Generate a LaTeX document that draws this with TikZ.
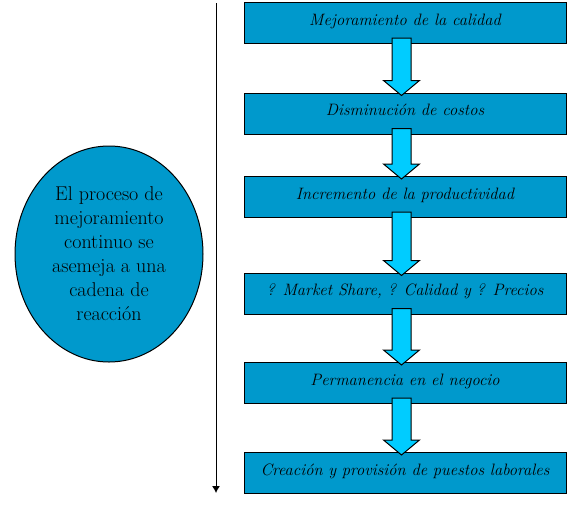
\documentclass[tikz,border=0pt]{standalone}
\usetikzlibrary{arrows.meta,calc,shapes.geometric}

\definecolor{boxblue}{RGB}{0,153,204}
\definecolor{arrowcyan}{RGB}{0,204,255}

\tikzset{
  stepbox/.style={draw=black, line width=1pt, fill=boxblue, minimum width=322, minimum height=41,
    inner sep=0pt, text height=12, text depth=8, font=\fontsize{16.5}{19}\selectfont\itshape},
  blockarrow/.style={draw=black, line width=1pt, fill=arrowcyan, line join=miter}
}

\begin{document}
\begin{tikzpicture}[x=1pt,y=-1pt]
\useasboundingbox (0,0) rectangle (570,507);

\node[draw=black, line width=1pt, fill=boxblue, ellipse, minimum width=188, minimum height=216,
  inner sep=0pt, align=center, font=\fontsize{20}{24}\selectfont] (chain) at (109,254)
  {El proceso de\\mejoramiento\\continuo se\\asemeja a una\\cadena de\\reacción};

\coordinate (top) at (216,3);
\coordinate (bottom) at (216,493);
\draw[line width=1pt, -{Latex[length=7,width=8]}] (top) -- (bottom);

\node[stepbox] (quality) at (405,23) {Mejoramiento de la calidad};
\node[stepbox] (costs) at (405,113.5) {Disminución de costos};
\node[stepbox] (productivity) at (405,197) {Incremento de la productividad};
\node[stepbox] (market) at (405,293.5) {? Market Share, ? Calidad y ? Precios};
\node[stepbox] (business) at (405,383) {Permanencia en el negocio};
\node[stepbox] (jobs) at (405,473) {Creación y provisión de puestos laborales};

\foreach \a/\b in {quality/costs, costs/productivity, productivity/market, market/business, business/jobs}{
  \coordinate (s) at ($(\a.south)+(-3.5,-6)$);
  \coordinate (t) at ($(\b.north)+(-3.5,3)$);
  \draw[blockarrow] ($(s)+(-9.5,0)$) -- ($(t)+(-9.5,-15)$) -- ($(t)+(-18,-15)$) -- (t)
    -- ($(t)+(18,-15)$) -- ($(t)+(9.5,-15)$) -- ($(s)+(9.5,0)$) -- cycle;
}

\end{tikzpicture}
\end{document}
